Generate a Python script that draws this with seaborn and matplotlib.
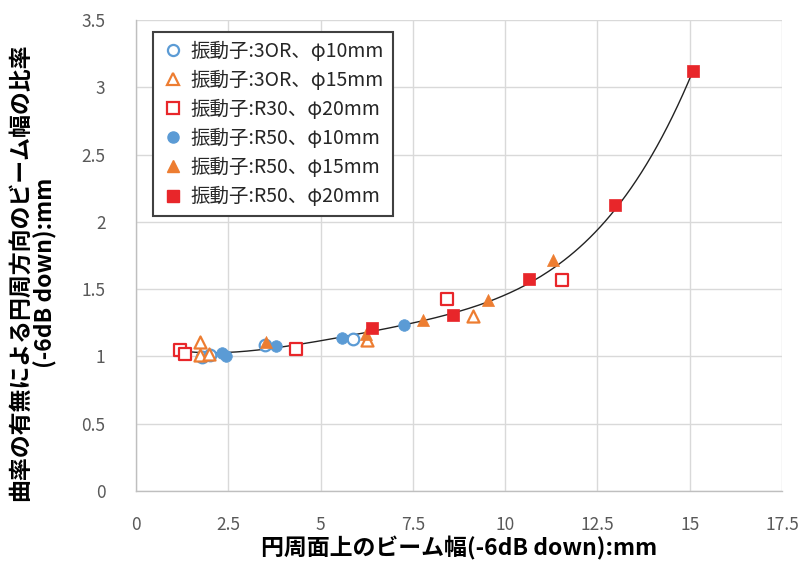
import numpy as np
import pandas as pd
import matplotlib
matplotlib.use("Agg")
import matplotlib.pyplot as plt
import seaborn as sns
from matplotlib.lines import Line2D

sns.set_theme(style="whitegrid")
plt.rcParams['font.family'] = ['Noto Sans CJK JP', 'DejaVu Sans']

labels = ["振動子:3OR、φ10mm", "振動子:3OR、φ15mm", "振動子:R30、φ20mm",
          "振動子:R50、φ10mm", "振動子:R50、φ15mm", "振動子:R50、φ20mm"]

x_30R_10 = [1.79, 2.00, 3.49, 5.88]
y_30R_10 = [0.995, 1.01, 1.085, 1.13]
x_30R_15 = [1.73, 1.73, 1.98, 6.26, 9.13]
y_30R_15 = [1.11, 1.01, 1.02, 1.12, 1.30]
x_R30_20 = [1.19, 1.33, 4.33, 8.43, 11.54]
y_R30_20 = [1.05, 1.02, 1.055, 1.43, 1.57]
x_R50_10 = [2.33, 2.44, 3.79, 5.58, 7.26]
y_R50_10 = [1.025, 1.0, 1.077, 1.14, 1.23]
x_R50_15 = [3.52, 6.23, 7.78, 9.54, 11.30]
y_R50_15 = [1.11, 1.17, 1.27, 1.42, 1.72]
x_R50_20 = [6.39, 8.59, 10.65, 12.98, 15.09]
y_R50_20 = [1.21, 1.31, 1.575, 2.125, 3.12]

xs = [x_30R_10, x_30R_15, x_R30_20, x_R50_10, x_R50_15, x_R50_20]
ys = [y_30R_10, y_30R_15, y_R30_20, y_R50_10, y_R50_15, y_R50_20]

blue = "#5B9BD5"
orange = "#ED7D31"
red = "#E8262A"
colors = [blue, orange, red, blue, orange, red]
markers = ["o", "^", "s", "o", "^", "s"]
filled = [False, False, False, True, True, True]

fig = plt.figure(figsize=(8.02, 5.62), dpi=100)
ax = fig.add_axes([136/802, 1-491/562, 646/802, 471/562])

# trendline fitted from all data
allx = np.concatenate([np.array(v) for v in xs])
ally = np.concatenate([np.array(v) for v in ys])
coef = np.polyfit(allx, ally, 4)
tx = np.linspace(allx.min(), allx.max(), 200)
ty = np.polyval(coef, tx)
sns.lineplot(x=tx, y=ty, ax=ax, color="#222222", linewidth=1.0, zorder=2)

handles = []
for xv, yv, c, m, f, lab in zip(xs, ys, colors, markers, filled, labels):
    df = pd.DataFrame({"x": xv, "y": yv})
    size = 70 if m != "^" else 75
    if f:
        sns.scatterplot(data=df, x="x", y="y", ax=ax, marker=m, color=c,
                        edgecolor=c, s=size, linewidth=0.5, zorder=3)
        handles.append(Line2D([], [], linestyle="none", marker=m, markersize=8,
                              markerfacecolor=c, markeredgecolor=c, label=lab))
    else:
        sns.scatterplot(data=df, x="x", y="y", ax=ax, marker=m, facecolor="white",
                        edgecolor=c, s=size, linewidth=1.6, zorder=3)
        handles.append(Line2D([], [], linestyle="none", marker=m, markersize=8,
                              markerfacecolor="white", markeredgecolor=c,
                              markeredgewidth=1.6, label=lab))

ax.set_xlim(0, 17.5)
ax.set_ylim(0, 3.5)
ax.set_xticks(np.arange(0, 17.6, 2.5))
ax.set_yticks(np.arange(0, 3.6, 0.5))
ax.set_xticklabels(["0", "2.5", "5", "7.5", "10", "12.5", "15", "17.5"])
ax.set_yticklabels(["0", "0.5", "1", "1.5", "2", "2.5", "3", "3.5"])
ax.tick_params(axis="both", labelsize=12.5, colors="#595959", length=0)
ax.tick_params(axis="x", pad=18)
ax.tick_params(axis="y", pad=22)
ax.set_facecolor("white")
ax.grid(True, color="#D9D9D9", linewidth=1.0)
for s in ["top", "right"]:
    ax.spines[s].set_visible(False)
for s in ["left", "bottom"]:
    ax.spines[s].set_color("#BFBFBF")
    ax.spines[s].set_linewidth(1.0)

ax.set_xlabel("円周面上のビーム幅(-6dB down):mm", fontsize=16.5, fontweight="bold",
              color="black")
ax.xaxis.set_label_coords(0.5, -0.148)
ax.xaxis.label.set_va("bottom")
ax.set_ylabel("曲率の有無による円周方向のビーム幅の比率\n(-6dB down):mm", fontsize=16.5,
              fontweight="bold", color="black", linespacing=1.1)
ax.yaxis.set_label_coords(-0.122, 0.464)

leg = ax.legend(handles=handles, loc="upper left", bbox_to_anchor=(0.026, 0.975),
                borderaxespad=0, fontsize=14, frameon=True, fancybox=False,
                handletextpad=0.3, labelspacing=0.42, borderpad=0.45,
                handlelength=1.2)
leg.get_frame().set_edgecolor("#404040")
leg.get_frame().set_linewidth(1.5)
leg.get_frame().set_facecolor("white")
leg.get_frame().set_alpha(1)

fig.savefig("out.png", dpi=100)
